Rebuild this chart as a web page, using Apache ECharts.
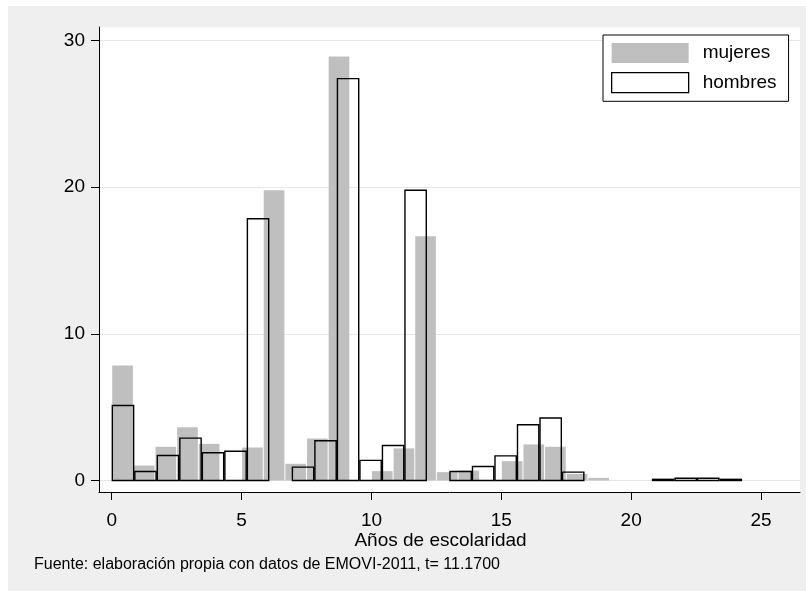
<!DOCTYPE html>
<html>
<head>
<meta charset="utf-8">
<script src="https://cdn.jsdelivr.net/npm/echarts@6/dist/echarts.min.js"></script>
<style>
  html, body { margin: 0; padding: 0; background: #ffffff; }
  #chart { width: 806px; height: 592px; }
</style>
</head>
<body>
<div id="chart"></div>
<script>
// Percentage of people per bin of years of schooling, women and men overlaid.
const seriesNames = ['mujeres', 'hombres'];

// mujeres: 30 equal bins spanning 0..25 years
const mujeresRange = [0, 25];
const mujeresPct = [7.85, 1.02, 2.30, 3.64, 2.50, 0, 2.25, 19.80, 1.14, 2.87,
                    28.91, 0, 0.64, 2.19, 16.66, 0.57, 0.68, 0, 1.32, 2.46,
                    2.30, 0.45, 0.18, 0, 0, 0, 0, 0, 0, 0];

// hombres: 30 equal bins spanning 0..26 years
const hombresRange = [0, 26];
const hombresPct = [5.12, 0.61, 1.71, 2.89, 1.89, 2.00, 17.85, 0, 0.91, 2.71,
                    27.41, 1.37, 2.39, 19.80, 0, 0.61, 0.96, 1.68, 3.80, 4.26,
                    0.57, 0, 0, 0, 0.08, 0.15, 0.15, 0.08, 0, 0];

const xTicks = [0, 5, 10, 15, 20, 25];
const yTicks = [0, 10, 20, 30];
const xTitle = 'Años de escolaridad';
const note = 'Fuente: elaboración propia con datos de EMOVI-2011, t= 11.1700';

const FONT = '"Liberation Sans", Arial, sans-serif';

// [binStart, binEnd, percent] rows for a histogram
function toBins(range, pct) {
  const w = (range[1] - range[0]) / pct.length;
  return pct.map((v, i) => [range[0] + i * w, range[0] + (i + 1) * w, v]);
}

function barRenderer(style, inset) {
  return function (params, api) {
    const v = api.value(2);
    if (!(v > 0)) return null;
    const p0 = api.coord([api.value(0), v]);
    const p1 = api.coord([api.value(1), 0]);
    return {
      type: 'rect',
      shape: { x: p0[0] + inset, y: p0[1], width: p1[0] - p0[0] - 2 * inset, height: p1[1] - p0[1] },
      style: style
    };
  };
}

const chart = echarts.init(document.getElementById('chart'), null, { renderer: 'canvas' });

chart.setOption({
  animation: false,
  backgroundColor: '#ffffff',
  textStyle: { fontFamily: FONT },
  grid: { left: 99, right: 6, top: 27, bottom: 100, show: true, backgroundColor: '#ffffff', borderWidth: 0 },
  xAxis: {
    type: 'value', min: -0.49, max: 26.5,
    axisLine: { show: true, onZero: false, lineStyle: { color: '#000', width: 1 } },
    axisTick: { show: true, length: 8, customValues: xTicks, lineStyle: { color: '#000', width: 1 } },
    axisLabel: { customValues: xTicks, margin: 19, fontSize: 19, color: '#000', fontFamily: FONT },
    splitLine: { show: false }
  },
  yAxis: {
    type: 'value', min: -0.784, max: 30.93,
    axisLine: { show: true, onZero: false, lineStyle: { color: '#000', width: 1 } },
    axisTick: { show: true, length: 8, customValues: yTicks, lineStyle: { color: '#000', width: 1 } },
    axisLabel: { customValues: yTicks, margin: 14, fontSize: 19, color: '#000', fontFamily: FONT },
    splitLine: { show: true, lineStyle: { color: '#e6e6e6', width: 1 } }
  },
  legend: {
    orient: 'vertical', left: 603, top: 35,
    padding: [8, 12, 8, 8], itemGap: 9, itemWidth: 77, itemHeight: 20,
    backgroundColor: '#ffffff', borderColor: '#000', borderWidth: 1, borderRadius: 0,
    selectedMode: false,
    textStyle: { fontFamily: FONT, fontSize: 19, color: '#000', lineHeight: 20, padding: [0, 0, 0, 9] },
    data: [
      { name: seriesNames[0], icon: 'rect', itemStyle: { color: '#bfbfbf', borderWidth: 0 } },
      { name: seriesNames[1], icon: 'rect', itemStyle: { color: '#ffffff', borderColor: '#000', borderWidth: 1.3 } }
    ]
  },
  graphic: [
    { type: 'rect', z: -100, silent: true, shape: { x: 8, y: 6, width: 798, height: 585 }, style: { fill: '#efefef' } },
    { type: 'text', x: 440.5, y: 541, silent: true,
      style: { text: xTitle, fontFamily: FONT, fontSize: 19, fill: '#000', align: 'center', verticalAlign: 'middle' } },
    { type: 'text', x: 34, y: 565, silent: true,
      style: { text: note, fontFamily: FONT, fontSize: 16, fill: '#000', align: 'left', verticalAlign: 'middle' } }
  ],
  series: [
    {
      name: seriesNames[0], type: 'custom',
      itemStyle: { color: '#bfbfbf' },
      encode: { x: [0, 1], y: 2 },
      data: toBins(mujeresRange, mujeresPct),
      renderItem: barRenderer({ fill: '#bfbfbf' }, 0.5)
    },
    {
      name: seriesNames[1], type: 'custom',
      itemStyle: { color: '#ffffff', borderColor: '#000', borderWidth: 1.3 },
      encode: { x: [0, 1], y: 2 },
      data: toBins(hombresRange, hombresPct),
      renderItem: barRenderer({ fill: 'none', stroke: '#000', lineWidth: 1.4 }, 0.6)
    }
  ]
});
</script>
</body>
</html>
